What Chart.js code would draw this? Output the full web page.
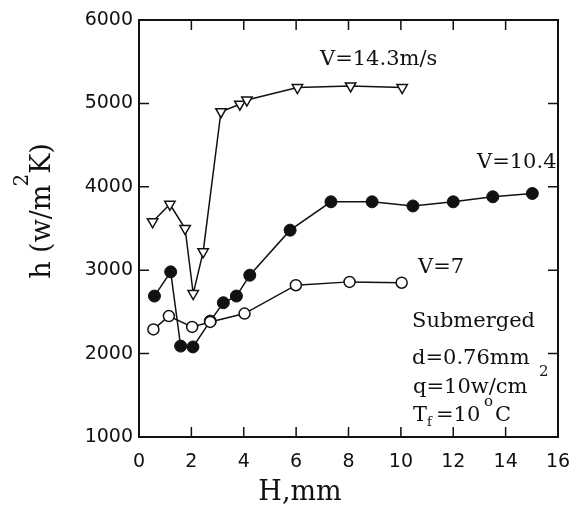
<!DOCTYPE html>
<html lang="en">
<head>
<meta charset="UTF-8">
<title>h vs H</title>
<script src="https://cdn.jsdelivr.net/npm/chart.js"></script>
<style>
  html, body { margin: 0; padding: 0; background: #fff; }
  #wrap { width: 573px; height: 512px; }
</style>
</head>
<body>
<div id="wrap"><canvas id="chart" width="573" height="512"></canvas></div>
<script>
// H (mm) and h (W/m2K)
const hV143 = [0.52, 1.18, 1.76, 2.07, 2.45, 3.13, 3.85, 4.12, 6.05, 8.08, 10.05];
const valV143 = [3580, 3790, 3500, 2720, 3220, 4900, 4990, 5040, 5190, 5210, 5190];

const hV104 = [0.59, 1.21, 1.59, 2.06, 2.72, 3.22, 3.72, 4.23, 5.77, 7.33, 8.9, 10.46, 12.0, 13.51, 15.02];
const valV104 = [2690, 2980, 2090, 2080, 2390, 2610, 2690, 2940, 3480, 3820, 3820, 3770, 3820, 3880, 3920];

const hV7 = [0.55, 1.14, 2.03, 2.72, 4.03, 5.99, 8.04, 10.03];
const valV7 = [2290, 2450, 2320, 2380, 2480, 2820, 2860, 2850];

const xTicks = [0, 2, 4, 6, 8, 10, 12, 14, 16];
const yTicks = [1000, 2000, 3000, 4000, 5000, 6000];

const toPoints = (xs, ys) => xs.map((x, i) => ({ x: x, y: ys[i] }));

// frame with inward ticks, axis titles and the text notes
const paperPlugin = {
  id: 'paper',
  afterDraw(chart) {
    const ctx = chart.ctx;
    const a = chart.chartArea;
    const xs = chart.scales.x, ys = chart.scales.y;
    ctx.save();
    ctx.strokeStyle = '#111';
    ctx.lineWidth = 2;
    ctx.strokeRect(a.left, a.top, a.right - a.left, a.bottom - a.top);
    ctx.lineWidth = 1.5;
    ctx.beginPath();
    xTicks.slice(1, -1).forEach(v => {
      const p = xs.getPixelForValue(v);
      ctx.moveTo(p, a.bottom); ctx.lineTo(p, a.bottom - 10);
      ctx.moveTo(p, a.top); ctx.lineTo(p, a.top + 10);
    });
    yTicks.slice(1, -1).forEach(v => {
      const p = ys.getPixelForValue(v);
      ctx.moveTo(a.left, p); ctx.lineTo(a.left + 10, p);
      ctx.moveTo(a.right, p); ctx.lineTo(a.right - 10, p);
    });
    ctx.stroke();

    ctx.fillStyle = '#111';
    ctx.textBaseline = 'middle';
    const serif = s => s + 'px "DejaVu Serif", "Liberation Serif", serif';

    // x title
    ctx.font = serif(27);
    ctx.textAlign = 'center';
    ctx.fillText('H,mm', 300, 493);

    // y title, with the 2 raised above m
    ctx.save();
    ctx.translate(43, 210);
    ctx.rotate(-Math.PI / 2);
    ctx.textAlign = 'left';
    ctx.font = serif(27);
    const partA = 'h (w/m', partB = 'K)';
    const wA = ctx.measureText(partA).width;
    ctx.font = serif(20);
    const w2 = ctx.measureText('2').width;
    ctx.font = serif(27);
    const total = wA + w2 + ctx.measureText(partB).width;
    let x0 = -total / 2;
    ctx.fillText(partA, x0, 0);
    ctx.font = serif(20);
    ctx.fillText('2', x0 + wA - 2, -20);
    ctx.font = serif(27);
    ctx.fillText(partB, x0 + wA + w2 - 2, 0);
    ctx.restore();

    // notes
    ctx.textAlign = 'left';
    ctx.font = serif(21);
    ctx.fillText('V=14.3m/s', 320, 60);
    ctx.fillText('V=10.4', 477, 163);
    ctx.fillText('V=7', 418, 268);
    ctx.fillText('Submerged', 412, 322);
    ctx.fillText('d=0.76mm', 412, 359);
    ctx.fillText('q=10w/cm', 413, 388);
    ctx.font = serif(15);
    ctx.fillText('2', 539, 372);
    ctx.fillText('o', 484, 402);
    ctx.font = serif(21);
    ctx.fillText('T', 413, 416);
    ctx.font = serif(13);
    ctx.fillText('f', 427, 423);
    ctx.font = serif(21);
    ctx.fillText('=10', 436, 416);
    ctx.fillText('C', 495, 416);
    ctx.restore();
  }
};

const lineStyle = {
  borderColor: '#111',
  borderWidth: 1.5,
  showLine: true,
  tension: 0
};

new Chart(document.getElementById('chart'), {
  type: 'scatter',
  data: {
    datasets: [
      Object.assign({
        label: 'V=14.3m/s',
        data: toPoints(hV143, valV143),
        pointStyle: 'triangle',
        rotation: 180,
        pointRadius: 6,
        pointBackgroundColor: '#fff',
        pointBorderColor: '#111',
        pointBorderWidth: 1.5
      }, lineStyle),
      Object.assign({
        label: 'V=7',
        data: toPoints(hV7, valV7),
        pointStyle: 'circle',
        pointRadius: 5.5,
        pointBackgroundColor: '#fff',
        pointBorderColor: '#111',
        pointBorderWidth: 1.5
      }, lineStyle),
      Object.assign({
        label: 'V=10.4',
        data: toPoints(hV104, valV104),
        pointStyle: 'circle',
        pointRadius: 6,
        pointBackgroundColor: '#111',
        pointBorderColor: '#111',
        pointBorderWidth: 1
      }, lineStyle)
    ]
  },
  options: {
    responsive: false,
    animation: false,
    layout: { padding: { top: 20, right: 15, left: 0, bottom: 0 } },
    plugins: { legend: { display: false }, tooltip: { enabled: false } },
    scales: {
      x: {
        type: 'linear',
        min: 0,
        max: 16,
        afterBuildTicks: s => { s.ticks = xTicks.map(v => ({ value: v })); },
        afterFit: s => { s.height = 75; s.paddingLeft = 0; s.paddingRight = 0; },
        grid: { display: false, drawTicks: false },
        border: { display: false },
        ticks: {
          padding: 14,
          color: '#111',
          callback: v => String(v),
          font: { family: '"DejaVu Sans", sans-serif', size: 19 }
        }
      },
      y: {
        type: 'linear',
        min: 1000,
        max: 6000,
        afterBuildTicks: s => { s.ticks = yTicks.map(v => ({ value: v })); },
        afterFit: s => { s.width = 139; s.paddingTop = 0; s.paddingBottom = 0; },
        grid: { display: false, drawTicks: false },
        border: { display: false },
        ticks: {
          padding: 6,
          color: '#111',
          callback: v => String(v),
          font: { family: '"DejaVu Sans", sans-serif', size: 19 }
        }
      }
    }
  },
  plugins: [paperPlugin]
});
</script>
</body>
</html>
